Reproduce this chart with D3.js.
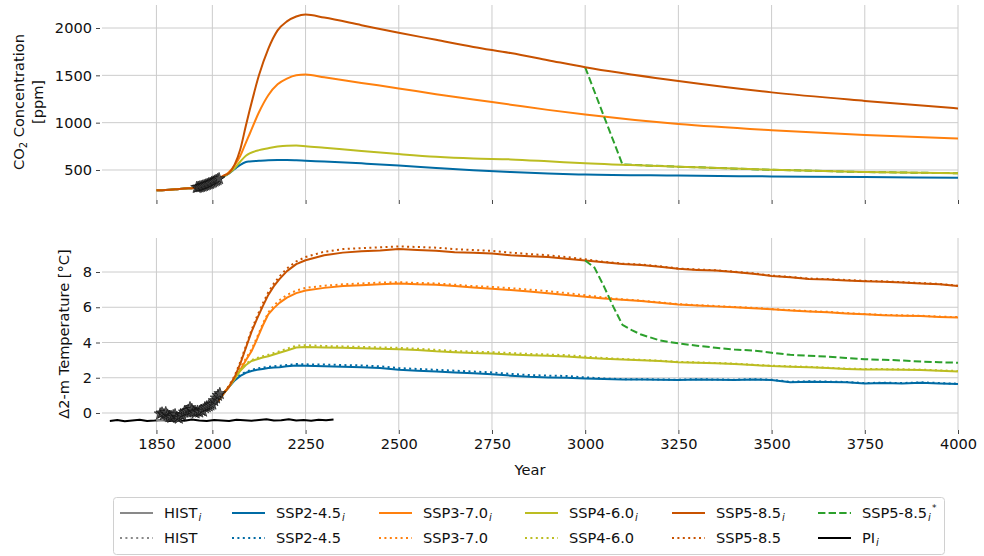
<!DOCTYPE html>
<meta charset="utf-8">
<script src="https://d3js.org/d3.v7.min.js"></script>
<style>
  body { margin: 0; background: #fff; }
  text { font-family: "DejaVu Sans", sans-serif; }
</style>
<div id="chart"></div>
<script>
// ---- values ----
const xTicks = [1850, 2000, 2250, 2500, 2750, 3000, 3250, 3500, 3750, 4000];
const co2Ticks = [500, 1000, 1500, 2000];
const tempTicks = [0, 2, 4, 6, 8];

// CO2 (ppm)
const histCo2Years = [1850, 1875, 1900, 1925, 1950, 1975, 2000, 2014];
const histCo2 = [285, 289, 296, 305, 311, 331, 369, 397];
const sspCo2Years = [2015, 2030, 2045, 2060, 2075, 2090, 2100, 2125, 2150, 2175, 2200, 2225, 2250,
                     2300, 2400, 2500, 2600, 2700, 2800, 2900, 3000, 3250, 3500, 3750, 4000];
const co2_245 = [400, 430, 465, 510, 555, 585, 590, 597, 603, 606, 606, 603, 598,
                 590, 570, 548, 522, 498, 478, 462, 452, 441, 432, 425, 419];
const co2_370 = [400, 435, 480, 550, 650, 790, 880, 1110, 1290, 1405, 1465, 1500, 1508,
                 1480, 1420, 1362, 1300, 1245, 1190, 1135, 1085, 985, 920, 870, 832];
const co2_460 = [400, 430, 465, 520, 590, 650, 675, 710, 730, 748, 757, 758, 752,
                 735, 700, 668, 640, 622, 612, 592, 570, 535, 502, 478, 466];
const co2_585 = [400, 440, 470, 560, 720, 970, 1130, 1500, 1780, 1975, 2070, 2122, 2142,
                 2110, 2030, 1950, 1875, 1800, 1735, 1660, 1585, 1440, 1320, 1230, 1150];
const co2StarYears = [3000, 3050, 3100, 3250, 3500, 3750, 4000];
const co2_585star = [1585, 1070, 558, 535, 502, 478, 466];
const co2ObsYears = [1958, 1962, 1966, 1970, 1974, 1978, 1982, 1986, 1990, 1994, 1998, 2002, 2006, 2010, 2014, 2018];
const co2Obs = [315, 318, 321, 325, 330, 335, 341, 347, 354, 358, 367, 373, 382, 390, 398, 408];

// temperature anomaly (°C)
const histTYears = [1850, 1870, 1890, 1910, 1930, 1950, 1970, 1990, 2000, 2014];
const histT_i = [-0.42, -0.38, -0.4, -0.32, -0.22, -0.12, 0.0, 0.2, 0.32, 0.6];
const histT = [-0.4, -0.35, -0.38, -0.3, -0.2, -0.08, 0.05, 0.25, 0.38, 0.65];
const tYears = [2015, 2030, 2045, 2060, 2075, 2090, 2105, 2120, 2135, 2150, 2165, 2180, 2200, 2225, 2250,
                2300, 2350, 2400, 2450, 2500, 2550, 2600, 2650, 2700, 2750, 2800, 2850, 2900, 2950, 3000,
                3050, 3100, 3150, 3200, 3250, 3300, 3350, 3400, 3450, 3500, 3550, 3600, 3650, 3700, 3750,
                3800, 3850, 3900, 3950, 4000];
const t245_i = [0.65, 1.1, 1.48, 1.85, 2.1, 2.28, 2.38, 2.45, 2.5, 2.55, 2.58, 2.6, 2.65, 2.7, 2.68,
                2.65, 2.62, 2.6, 2.55, 2.45, 2.4, 2.35, 2.3, 2.25, 2.2, 2.12, 2.05, 2.02, 2.0, 1.96,
                1.93, 1.9, 1.9, 1.88, 1.87, 1.9, 1.88, 1.87, 1.9, 1.87, 1.75, 1.78, 1.76, 1.74, 1.68,
                1.7, 1.68, 1.72, 1.68, 1.64];
const t245 = [0.67, 1.12, 1.52, 1.9, 2.16, 2.34, 2.45, 2.52, 2.58, 2.62, 2.65, 2.68, 2.72, 2.78, 2.76,
              2.75, 2.72, 2.7, 2.65, 2.55, 2.5, 2.45, 2.4, 2.35, 2.3, 2.22, 2.15, 2.12, 2.1, 2.02,
              1.96, 1.92, 1.92, 1.9, 1.89, 1.92, 1.9, 1.89, 1.92, 1.89, 1.77, 1.8, 1.78, 1.76, 1.7,
              1.72, 1.7, 1.74, 1.7, 1.66];
const t370_i = [0.65, 1.1, 1.5, 1.95, 2.45, 3.0, 3.5, 4.2, 4.95, 5.6, 5.95, 6.25, 6.55, 6.8, 6.95,
                7.1, 7.2, 7.25, 7.3, 7.35, 7.3, 7.28, 7.2, 7.12, 7.05, 6.98, 6.9, 6.8, 6.7, 6.6,
                6.5, 6.42, 6.35, 6.25, 6.15, 6.1, 6.05, 6.0, 5.95, 5.88, 5.82, 5.76, 5.72, 5.65, 5.6,
                5.55, 5.52, 5.5, 5.45, 5.42];
const t370 = [0.67, 1.12, 1.53, 2.0, 2.55, 3.1, 3.6, 4.3, 5.05, 5.7, 6.1, 6.4, 6.7, 6.95, 7.1,
              7.22, 7.3, 7.35, 7.4, 7.42, 7.38, 7.35, 7.28, 7.2, 7.15, 7.08, 7.0, 6.92, 6.8, 6.68,
              6.55, 6.45, 6.38, 6.28, 6.18, 6.12, 6.07, 6.02, 5.97, 5.9, 5.84, 5.78, 5.74, 5.67, 5.62,
              5.57, 5.54, 5.52, 5.47, 5.44];
const t460_i = [0.65, 1.1, 1.5, 1.95, 2.4, 2.72, 2.95, 3.05, 3.15, 3.22, 3.32, 3.42, 3.55, 3.72, 3.75,
                3.72, 3.7, 3.68, 3.65, 3.62, 3.58, 3.5, 3.45, 3.4, 3.38, 3.32, 3.28, 3.25, 3.2, 3.13,
                3.08, 3.03, 3.0, 2.95, 2.88, 2.85, 2.82, 2.78, 2.72, 2.66, 2.63, 2.6, 2.55, 2.5, 2.47,
                2.47, 2.46, 2.44, 2.4, 2.36];
const t460 = [0.67, 1.12, 1.53, 2.0, 2.46, 2.8, 3.0, 3.12, 3.22, 3.3, 3.4, 3.5, 3.65, 3.82, 3.85,
              3.8, 3.78, 3.75, 3.72, 3.7, 3.65, 3.58, 3.52, 3.48, 3.45, 3.4, 3.35, 3.32, 3.28, 3.2,
              3.12, 3.06, 3.02, 2.97, 2.9, 2.87, 2.84, 2.8, 2.74, 2.68, 2.65, 2.62, 2.57, 2.52, 2.49,
              2.49, 2.48, 2.46, 2.42, 2.38];
const t585_i = [0.65, 1.1, 1.5, 2.05, 2.8, 3.7, 4.6, 5.35, 6.05, 6.7, 7.2, 7.6, 8.05, 8.45, 8.67,
                8.95, 9.1, 9.18, 9.22, 9.3, 9.25, 9.2, 9.12, 9.1, 9.05, 8.95, 8.9, 8.85, 8.75, 8.65,
                8.55, 8.45, 8.4, 8.3, 8.18, 8.12, 8.08, 8.0, 7.9, 7.78, 7.7, 7.6, 7.58, 7.52, 7.48,
                7.45, 7.4, 7.35, 7.3, 7.2];
const t585 = [0.67, 1.12, 1.55, 2.12, 2.9, 3.8, 4.7, 5.5, 6.2, 6.85, 7.35, 7.75, 8.2, 8.6, 8.85,
              9.15, 9.3, 9.35, 9.4, 9.45, 9.42, 9.38, 9.3, 9.25, 9.2, 9.1, 9.02, 8.95, 8.85, 8.72,
              8.58, 8.48, 8.42, 8.33, 8.2, 8.15, 8.1, 8.02, 7.93, 7.8, 7.72, 7.63, 7.6, 7.55, 7.5,
              7.47, 7.42, 7.37, 7.32, 7.22];
const tStarYears = [3000, 3025, 3050, 3075, 3100, 3125, 3150, 3200, 3250, 3300, 3350, 3400,
                    3450, 3500, 3550, 3600, 3650, 3700, 3750, 3800, 3850, 3900, 3950, 4000];
const t585star = [8.65, 8.25, 7.2, 6.05, 5.0, 4.7, 4.45, 4.12, 3.95, 3.82, 3.7, 3.6,
                  3.55, 3.42, 3.3, 3.25, 3.2, 3.12, 3.05, 3.02, 2.98, 2.92, 2.88, 2.85];
const piYears = d3.range(1725, 2326, 20);
const piT = [-0.45, -0.4, -0.47, -0.42, -0.38, -0.45, -0.43, -0.4, -0.46, -0.41, -0.44, -0.37, -0.43, -0.46, -0.4, -0.42,
             -0.45, -0.38, -0.41, -0.44, -0.4, -0.36, -0.43, -0.41, -0.35, -0.42, -0.4, -0.44, -0.38, -0.41, -0.37];
const tObsYears = d3.range(1860, 2021, 5);
const tObs = [-0.05, 0.0, -0.1, 0.02, -0.12, -0.2, -0.25, -0.15, -0.1, -0.25, -0.3, -0.1, -0.15, 0.05, 0.1, 0.15, 0.3,
              0.2, 0.05, 0.0, 0.1, 0.05, 0.15, 0.1, 0.3, 0.35, 0.4, 0.45, 0.5, 0.7, 0.85, 1.0, 1.1];

// ---- styles ----
const col = {
  hist: "#898989", s245: "#006ba4", s370: "#ff800e", s460: "#bcbd22",
  s585: "#c85200", star: "#2ca02c", pi: "#000000"
};
const DOT = "2,3.4", DASH = "7.4,3.2";
const FS = "14.6px";

const zip = (xs, ys) => xs.map((v, i) => [v, ys[i]]);

const svg = d3.select("#chart").append("svg")
  .attr("width", 984).attr("height", 556);

const x = d3.scaleLinear().domain([1704, 4000]).range([102, 958]);
const yC = d3.scaleLinear().domain([183, 2243]).range([200, 5]);
const yT = d3.scaleLinear().domain([-0.965, 9.93]).range([430, 238]);

function panel(y, yTicks, top, bottom, showX) {
  const g = svg.append("g");
  g.selectAll(".vg").data(xTicks).join("line")
    .attr("x1", d => x(d)).attr("x2", d => x(d))
    .attr("y1", top).attr("y2", bottom)
    .attr("stroke", "#cccccc").attr("stroke-width", 1);
  g.selectAll(".hg").data(yTicks).join("line")
    .attr("x1", 102).attr("x2", 958)
    .attr("y1", d => y(d)).attr("y2", d => y(d))
    .attr("stroke", "#cccccc").attr("stroke-width", 1);

  const ax = g.append("g").attr("transform", `translate(0,${bottom})`)
    .call(d3.axisBottom(x).tickValues(xTicks).tickSize(4).tickPadding(5)
      .tickFormat(showX ? d3.format("d") : ""));
  const ay = g.append("g").attr("transform", `translate(100,0)`)
    .call(d3.axisLeft(y).tickValues(yTicks).tickSize(4).tickPadding(4).tickFormat(d3.format("d")));
  [ax, ay].forEach(a => {
    a.select(".domain").remove();
    a.selectAll("line").attr("stroke", "#444");
    a.selectAll("text").attr("fill", "#111").style("font-size", FS)
      .style("font-family", "DejaVu Sans");
  });
  return g;
}

function drawLine(g, y, data, color, dash, curve, w) {
  g.append("path").datum(data)
    .attr("fill", "none").attr("stroke", color)
    .attr("stroke-width", w || 2)
    .attr("stroke-dasharray", dash)
    .attr("stroke-linejoin", "round")
    .attr("d", d3.line().curve(curve || d3.curveLinear).x(d => x(d[0])).y(d => y(d[1])));
}

function drawStars(g, y, data) {
  g.selectAll(null).data(data).join("path")
    .attr("transform", d => `translate(${x(d[0])},${y(d[1])})`)
    .attr("d", d3.symbol(d3.symbolStar, 44))
    .attr("fill", "#4a4a4a").attr("stroke", "#111").attr("stroke-width", 0.9)
    .attr("opacity", 0.85);
}

// ---- top: CO2 ----
const gTop = panel(yC, co2Ticks, 5, 200, false);
const histC = zip(histCo2Years, histCo2);
const mono = d3.curveMonotoneX;
drawLine(gTop, yC, histC, col.hist, null, mono);
drawLine(gTop, yC, histC.concat(zip(sspCo2Years, co2_245)), col.s245, null, mono);
drawLine(gTop, yC, histC.concat(zip(sspCo2Years, co2_370)), col.s370, null, mono);
drawLine(gTop, yC, zip(co2StarYears, co2_585star), col.star, DASH);
drawLine(gTop, yC, histC.concat(zip(sspCo2Years, co2_460)), col.s460, null, mono);
drawLine(gTop, yC, histC.concat(zip(sspCo2Years, co2_585)), col.s585, null, mono);
drawStars(gTop, yC, zip(co2ObsYears, co2Obs));

// ---- bottom: temperature ----
const gBot = panel(yT, tempTicks, 238, 430, true);
drawLine(gBot, yT, zip(piYears, piT), col.pi, null);
drawLine(gBot, yT, zip(histTYears, histT_i), col.hist, null, mono);
drawLine(gBot, yT, zip(histTYears, histT), col.hist, DOT, mono);
[[t245_i, t245, col.s245], [t370_i, t370, col.s370], [t460_i, t460, col.s460], [t585_i, t585, col.s585]]
  .forEach(([si, sd, c]) => {
    drawLine(gBot, yT, zip(tYears, si), c, null);
    drawLine(gBot, yT, zip(tYears, sd), c, DOT);
  });
drawLine(gBot, yT, zip(tStarYears, t585star), col.star, DASH);
drawStars(gBot, yT, zip(tObsYears, tObs));

// ---- axis labels ----
const yl1 = svg.append("text").attr("transform", "translate(24,102) rotate(-90)")
  .attr("text-anchor", "middle").style("font-size", FS).attr("fill", "#111");
yl1.append("tspan").text("CO");
yl1.append("tspan").text("2").style("font-size", "10px").attr("dy", 3);
yl1.append("tspan").text(" Concentration").attr("dy", -3);
svg.append("text").attr("transform", "translate(43,102) rotate(-90)")
  .attr("text-anchor", "middle").style("font-size", FS).attr("fill", "#111").text("[ppm]");
svg.append("text").attr("transform", "translate(69,334) rotate(-90)")
  .attr("text-anchor", "middle").style("font-size", FS).attr("fill", "#111")
  .text("Δ2-m Temperature [°C]");
svg.append("text").attr("x", 530).attr("y", 475).attr("text-anchor", "middle")
  .style("font-size", FS).attr("fill", "#111").text("Year");

// ---- legend ----
const legendNames = ["HIST", "HIST", "SSP2-4.5", "SSP2-4.5", "SSP3-7.0", "SSP3-7.0",
                     "SSP4-6.0", "SSP4-6.0", "SSP5-8.5", "SSP5-8.5", "SSP5-8.5", "PI"];
const legendSub = [true, false, true, false, true, false, true, false, true, false, true, true];
const legendSup = [false, false, false, false, false, false, false, false, false, false, true, false];
const legendColors = [col.hist, col.hist, col.s245, col.s245, col.s370, col.s370,
                      col.s460, col.s460, col.s585, col.s585, col.star, col.pi];
const legendDash = [null, DOT, null, DOT, null, DOT, null, DOT, null, DOT, DASH, null];
const colX = [120, 232, 379, 525, 672, 818];
const rowY = [513, 538];

const lg = svg.append("g");
lg.append("rect").attr("x", 113.5).attr("y", 497.5).attr("width", 831).attr("height", 57)
  .attr("rx", 3).attr("fill", "#fff").attr("stroke", "#d0d0d0");
legendNames.forEach((name, i) => {
  const cx = colX[Math.floor(i / 2)], cy = rowY[i % 2];
  lg.append("line").attr("x1", cx).attr("x2", cx + 33).attr("y1", cy).attr("y2", cy)
    .attr("stroke", legendColors[i]).attr("stroke-width", 2)
    .attr("stroke-dasharray", legendDash[i]);
  const t = lg.append("text").attr("x", cx + 44).attr("y", cy + 5)
    .style("font-size", FS).attr("fill", "#111");
  const main = t.append("tspan").text(name);
  const w = main.node().getComputedTextLength();
  if (legendSub[i]) {
    t.append("tspan").attr("x", cx + 45 + w).attr("dy", 3)
      .style("font-size", "10px").style("font-style", "italic").text("i");
  }
  if (legendSup[i]) {
    // star sits just to the right of the subscript, raised
    t.append("tspan").attr("x", cx + 49 + w).attr("dy", -10)
      .style("font-size", "9px").text("*");
  }
});
</script>
